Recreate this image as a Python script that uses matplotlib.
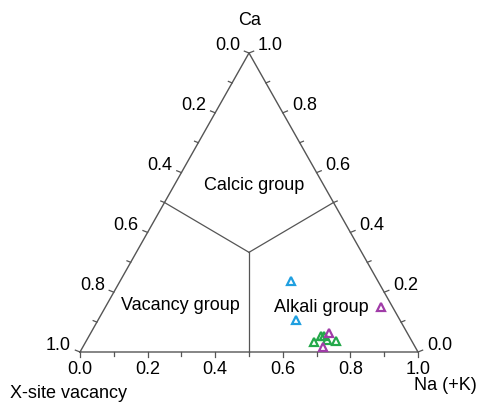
import matplotlib
matplotlib.use("Agg")
import matplotlib.pyplot as plt
import numpy as np

plt.rcParams['font.family'] = ['Liberation Sans', 'DejaVu Sans']

# ---- data (ternary: Ca, Na(+K); vacancy = 1 - Ca - Na) ----
blue_ca = [0.236, 0.107]
blue_na = [0.506, 0.587]
purple_ca = [0.152, 0.065, 0.016]
purple_na = [0.814, 0.705, 0.712]
green_ca = [0.035, 0.052, 0.054, 0.040, 0.037]
green_na = [0.676, 0.686, 0.696, 0.712, 0.739]

tick_values = [0.0, 0.2, 0.4, 0.6, 0.8, 1.0]
tick_labels = ["0.0", "0.2", "0.4", "0.6", "0.8", "1.0"]
minor_values = [0.1, 0.3, 0.5, 0.7, 0.9]
group_names = ["Calcic group", "Vacancy group", "Alkali group"]
apex_labels = ["Ca", "X-site vacancy", "Na (+K)"]


def to_xy(ca, na):
    ca = np.asarray(ca, float)
    na = np.asarray(na, float)
    return na + ca / 2.0, ca


W, H = 478, 403
fig = plt.figure(figsize=(W / 100, H / 100), dpi=100)
# triangle: bottom-left (80,352), bottom-right (418,352), top y=53 (pixels)
ax = fig.add_axes([80 / W, (H - 352) / H, 338 / W, 299 / H])
ax.set_xlim(0, 1)
ax.set_ylim(0, 1)
ax.axis('off')

PXX, PXY = 338.0, 299.0  # pixels per data unit
edge_col = '#555555'
fs = 13

# triangle outline
tx, ty = to_xy([0, 0, 1, 0], [0, 1, 0, 0])
ax.plot(tx, ty, color=edge_col, lw=1.0, clip_on=False, solid_joinstyle='miter')

# field boundaries
cx, cy = to_xy([1 / 3], [1 / 3])
for ca, na in [(0.5, 0.0), (0.5, 0.5), (0.0, 0.5)]:
    ex, ey = to_xy([ca], [na])
    ax.plot([cx[0], ex[0]], [cy[0], ey[0]], color=edge_col, lw=0.9, clip_on=False)


def tick(x0, y0, dxp, dyp, length):
    n = np.hypot(dxp, dyp)
    ax.plot([x0, x0 + dxp / n * length / PXX], [y0, y0 + dyp / n * length / PXY],
            color=edge_col, lw=0.9, clip_on=False)


# bottom axis (Na)
for v, lab in zip(tick_values, tick_labels):
    x, y = to_xy([0.0], [v])
    tick(x[0], y[0], 0, -1, 5)
    ax.annotate(lab, (x[0], y[0]), xytext=(0, -17), textcoords='offset pixels',
                ha='center', va='center', fontsize=fs)
for v in minor_values:
    x, y = to_xy([0.0], [v])
    tick(x[0], y[0], 0, -1, 4)

# left axis (vacancy, 0 at top)
for v, lab in zip(tick_values, tick_labels):
    x, y = to_xy([1 - v], [0.0])
    tick(x[0], y[0], -1, 0.4, 5)
    ax.annotate(lab, (x[0], y[0]), xytext=(-9, 7), textcoords='offset pixels',
                ha='right', va='center', fontsize=fs)
for v in minor_values:
    x, y = to_xy([1 - v], [0.0])
    tick(x[0], y[0], -1, 0.4, 4)

# right axis (Ca, 1 at top)
for v, lab in zip(tick_values, tick_labels):
    x, y = to_xy([v], [1 - v])
    tick(x[0], y[0], 1, 0.4, 5)
    ax.annotate(lab, (x[0], y[0]), xytext=(9, 7), textcoords='offset pixels',
                ha='left', va='center', fontsize=fs)
for v in minor_values:
    x, y = to_xy([v], [1 - v])
    tick(x[0], y[0], 1, 0.4, 4)

# apex labels
top = to_xy([1.0], [0.0])
ax.annotate(apex_labels[0], (top[0][0], top[1][0]), xytext=(1, 28), textcoords='offset pixels',
            ha='center', va='baseline', fontsize=fs)
fig.text(10 / W, 1 - 398 / H, apex_labels[1], ha='left', va='baseline', fontsize=fs)
fig.text(1 - 1 / W, 1 - 390 / H, apex_labels[2], ha='right', va='baseline', fontsize=fs)

# group labels (placed in field interiors)
gx = [(254 - 80) / PXX, (180 - 80) / PXX, (321 - 80) / PXX]
gy = [(352 - 186) / PXY, (352 - 306) / PXY, (352 - 307.5) / PXY]
for name, x, y in zip(group_names, gx, gy):
    ax.text(x, y, name, ha='center', va='center', fontsize=fs)

# data points
mk = dict(marker='^', linestyle='none', markersize=5.5, markerfacecolor='none',
          markeredgewidth=1.6, clip_on=False)
bx, by = to_xy(blue_ca, blue_na)
ax.plot(bx, by, markeredgecolor='#1f9fe0', **mk)
gxp, gyp = to_xy(green_ca, green_na)
ax.plot(gxp, gyp, markeredgecolor='#23a84a', **mk)
px, py = to_xy(purple_ca, purple_na)
ax.plot(px, py, markeredgecolor='#a03ca8', **mk)

fig.savefig('out.png', dpi=100)
